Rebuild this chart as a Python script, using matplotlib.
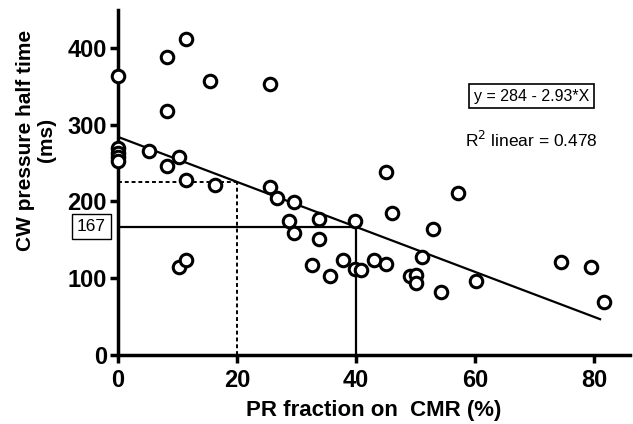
import matplotlib.pyplot as plt

# PR fraction (%) and CW pressure half time (ms)
pr_fraction = [0, 0, 0, 0, 0, 5.2, 8.2, 8.2, 8.2, 10.2, 10.2, 11.4, 11.4, 11.4,
               15.4, 16.3, 25.5, 25.5, 26.7, 28.7, 29.5, 29.5, 32.6, 33.7, 33.7,
               35.7, 37.8, 39.9, 39.9, 40.9, 43, 45, 45, 46, 49, 50, 50, 51,
               53, 54.2, 57.2, 60.2, 74.5, 79.5, 81.7]
pht_ms = [363, 270, 263, 258, 252, 266, 388, 318, 246, 258, 115, 412, 228, 124,
          357, 221, 353, 219, 205, 175, 199, 159, 117, 177, 151,
          103, 124, 175, 112, 111, 124, 119, 238, 185, 103, 104, 94, 128,
          164, 82, 211, 96, 121, 115, 69]

intercept = 284
slope = -2.93
fit_x = [0, 81]
cut_x = [20, 40]

plt.rcParams["font.family"] = ["Liberation Sans", "DejaVu Sans"]

fig = plt.figure(figsize=(6.33, 4.24), dpi=100)
ax = fig.add_axes([0.1864, 0.1627, 0.8086, 0.8133])

ax.plot(pr_fraction, pht_ms, "o", mfc="white", mec="black", ms=9, mew=2.2,
        clip_on=False, zorder=4)
ax.plot(fit_x, [intercept + slope * x for x in fit_x], color="black", lw=1.6, zorder=3)

# dotted cut at 20 %
y20 = intercept + slope * cut_x[0]
ax.plot([0, cut_x[0]], [y20, y20], color="black", lw=1.4, ls=(0, (2, 1.5)))
ax.plot([cut_x[0], cut_x[0]], [0, y20], color="black", lw=1.4, ls=(0, (2, 1.5)))
# solid cut at 40 %
y40 = 167
ax.plot([0, cut_x[1]], [y40, y40], color="black", lw=1.6)
ax.plot([cut_x[1], cut_x[1]], [0, y40], color="black", lw=1.6)

ax.text(-2.0, y40, "167", ha="right", va="center", fontsize=12.5, clip_on=False,
        bbox=dict(boxstyle="square,pad=0.3", fc="white", ec="black", lw=1))

ax.text(69.5, 337, "y = 284 - 2.93*X", ha="center", va="center", fontsize=11.5,
        bbox=dict(boxstyle="square,pad=0.3", fc="white", ec="black", lw=1.2))
ax.text(69.5, 280, "R$^2$ linear = 0.478", ha="center", va="center", fontsize=12.5)

ax.set_xlim(0, 86)
ax.set_ylim(0, 449)
ax.set_xticks([0, 20, 40, 60, 80])
ax.set_yticks([0, 100, 200, 300, 400])

for side in ["top", "right"]:
    ax.spines[side].set_visible(False)
for side in ["left", "bottom"]:
    ax.spines[side].set_linewidth(2.5)
ax.tick_params(direction="out", length=6, width=2.5, labelsize=17, pad=2)
ax.tick_params(axis="x", pad=4)
for lab in ax.get_xticklabels() + ax.get_yticklabels():
    lab.set_fontweight("bold")

ax.set_xlabel("PR fraction on  CMR (%)", fontsize=16, fontweight="bold", labelpad=6)
fig.text(36 / 633, 1 - 140 / 424, "CW pressure half time\n(ms)", rotation=90,
         ha="center", va="center", fontsize=15, fontweight="bold", linespacing=1.1)

fig.savefig("out.png", dpi=100)
